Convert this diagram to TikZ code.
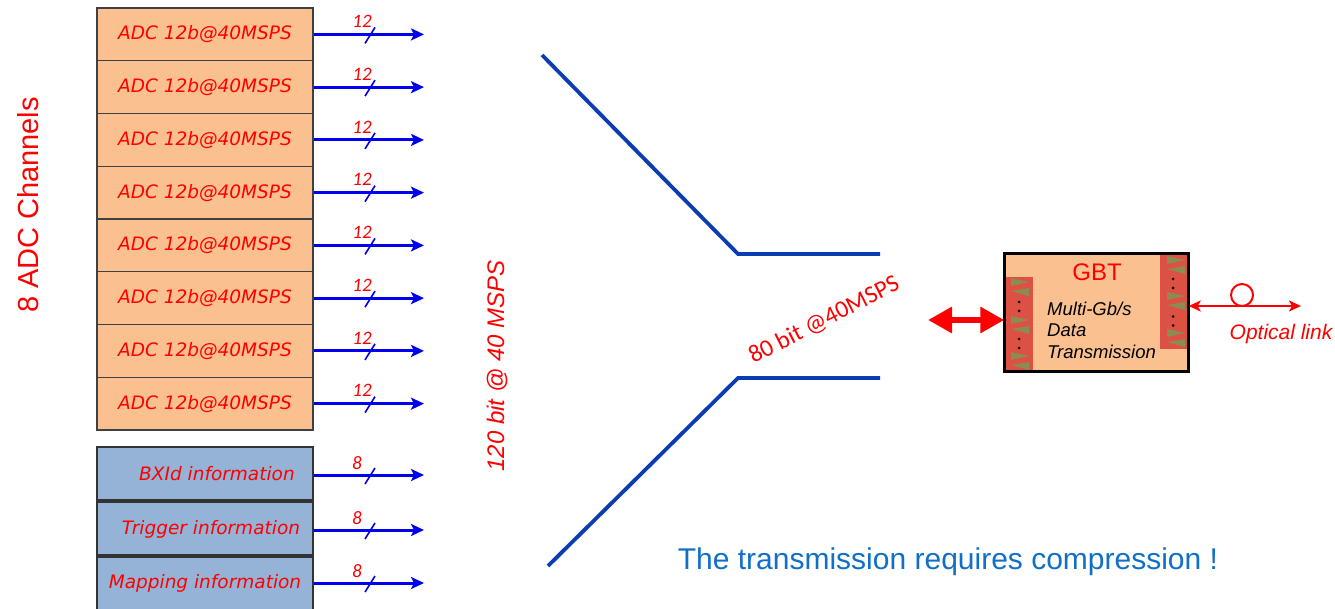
\documentclass[tikz,border=0pt]{standalone}
\usepackage{fontspec}
\setmainfont{Liberation Sans}
\newfontfamily\dvs{DejaVu Sans}
\newfontfamily\carl{Carlito}
\usetikzlibrary{arrows.meta}
\definecolor{peach}{HTML}{FAC090}
\definecolor{bluebox}{HTML}{95B3D7}
\definecolor{funnel}{HTML}{0A3CB4}
\definecolor{stripred}{HTML}{DD5044}
\definecolor{olivew}{HTML}{8C8C50}
\definecolor{txtblue}{HTML}{1070C8}
\definecolor{sigblue}{HTML}{0000F0}
\newcommand\gbtwedges[2]{%
  \fill[olivew] (#1-9,#2-9) -- (#1+9,#2-5) -- (#1-9,#2-1) -- cycle;
  \fill[olivew] (#1-9,#2+4) -- (#1+9,#2+1) -- (#1+9,#2+9) -- cycle;}
\newcommand\gbtdots[2]{%
  \fill (#1,#2-4.5) circle (1.5);
  \fill (#1,#2+4.5) circle (1.5);}
\begin{document}
\begin{tikzpicture}[x=1pt,y=-1pt,
  adcbox/.style={draw=black!75, line width=1.2pt, fill=peach, minimum width=216pt, minimum height=52.75pt, inner sep=0pt,
    text=red, font=\dvs\itshape\fontsize{18.5}{20}\selectfont},
  infobox/.style={draw=black!80, line width=2pt, fill=bluebox, minimum width=216pt, inner sep=0pt},
  infotxt/.style={text=red, font=\dvs\itshape\fontsize{18.5}{20}\selectfont, inner sep=0pt},
  sig/.style={draw=sigblue, line width=3pt, -{Stealth[length=13pt,width=12pt,inset=3pt]}},
  slash/.style={draw=sigblue, line width=1.6pt},
  buslbl/.style={text=red, font=\carl\itshape\fontsize{19}{20}\selectfont, inner sep=0pt},
  funnelline/.style={draw=funnel, line width=3.8pt},
  gbttxt/.style={anchor=base west, inner sep=0pt, font=\itshape\fontsize{18.5}{21}\selectfont}]
\useasboundingbox (0,0) rectangle (1335,609);
\fill[white] (0,0) rectangle (1335,609);

% ADC channels
\foreach \i in {0,...,7}{
  \pgfmathsetmacro\yy{34.4+\i*52.75}
  \node[adcbox] (adc\i) at (205,\yy) {ADC 12b@40MSPS};
  \coordinate (adcend\i) at (424,\yy);
  \draw[sig] (adc\i.east) -- (adcend\i);
  \draw[slash] (365,\yy+9) -- (375,\yy-7);
  \node[buslbl] (adcbus\i) at (362,\yy-13) {12};
}

% info boxes
\node[infobox, minimum height=53pt] (bx) at (205,473.5) {};
\node[infobox, minimum height=53pt] (trg) at (205,528.5) {};
\node[infobox, minimum height=56pt] (map) at (205,584.5) {};
\node[infotxt] (bxt) at (217,474) {BXId information};
\node[infotxt] (trgt) at (211,529) {Trigger information};
\node[infotxt] (mapt) at (205,583) {Mapping information};
\foreach \n/\yy in {bx/475,trg/530,map/583}{
  \coordinate (\n end) at (424,\yy);
  \draw[sig] (\n.east |- \n end) -- (\n end);
  \draw[slash] (365,\yy+9) -- (375,\yy-7);
  \node[buslbl] (\n bus) at (357,\yy-12) {8};
}

% side labels
\node[rotate=90, text=red, font=\fontsize{29}{30}\selectfont] (chlbl) at (28,205) {8 ADC Channels};
\node[rotate=90, text=red, font=\itshape\fontsize{24}{26}\selectfont] (bitlbl) at (497,366) {120 bit @ 40 MSPS};

% funnel
\draw[funnelline] (542,55) -- (738,254) -- (880,254);
\draw[funnelline] (548,566) -- (738,378) -- (880,378);
\node[rotate=27, text=red, font=\carl\fontsize{24.5}{26}\selectfont] (lbl80) at (824,320) {80 bit @40MSPS};

% GBT block
\node[fill=peach, minimum width=184pt, minimum height=118pt, inner sep=0pt] (gbt) at (1096.5,312.5) {};
\fill[stripred] (1005,277) rectangle (1033,371);
\fill[stripred] (1160,254) rectangle (1188,349);
\gbtwedges{1020}{287}
\gbtdots{1019}{306.5}
\gbtwedges{1020}{325}
\gbtdots{1019}{343.5}
\gbtwedges{1020}{361}
\gbtwedges{1176}{265}
\gbtdots{1173}{283.5}
\gbtwedges{1176}{301}
\gbtdots{1173}{321}
\gbtwedges{1176}{338}
\draw[line width=3pt] (gbt.north west) rectangle (gbt.south east);
\node[text=red, font=\fontsize{24}{26}\selectfont] (gbtname) at (1097,272) {GBT};
\node[gbttxt] (gbt1) at (1047,316) {Multi-Gb/s};
\node[gbttxt] (gbt2) at (1047,337) {Data};
\node[gbttxt] (gbt3) at (1047,358) {Transmission};

% red double arrow
\coordinate (arrl) at (928,320);
\draw[red, line width=6pt, {Triangle[length=24pt,width=25pt]}-{Triangle[length=24pt,width=25pt]}] (arrl) -- (arrl -| gbt.west);

% optical link
\coordinate (olend) at (1301,306);
\draw[red, line width=2pt, {Stealth[length=12pt,width=11pt,inset=3pt]}-{Stealth[length=12pt,width=11pt,inset=3pt]}] (olend -| gbt.east) -- (olend);
\node[circle, draw=red, line width=2pt, minimum size=22pt, inner sep=0pt] (loop) at (1242,295) {};
\node[text=red, font=\itshape\fontsize{21}{23}\selectfont] (optlbl) at (1281,334) {Optical link};

% bottom note
\node[text=txtblue, font=\fontsize{30}{32}\selectfont] (note) at (948,562) {The transmission requires compression !};
\end{tikzpicture}
\end{document}
